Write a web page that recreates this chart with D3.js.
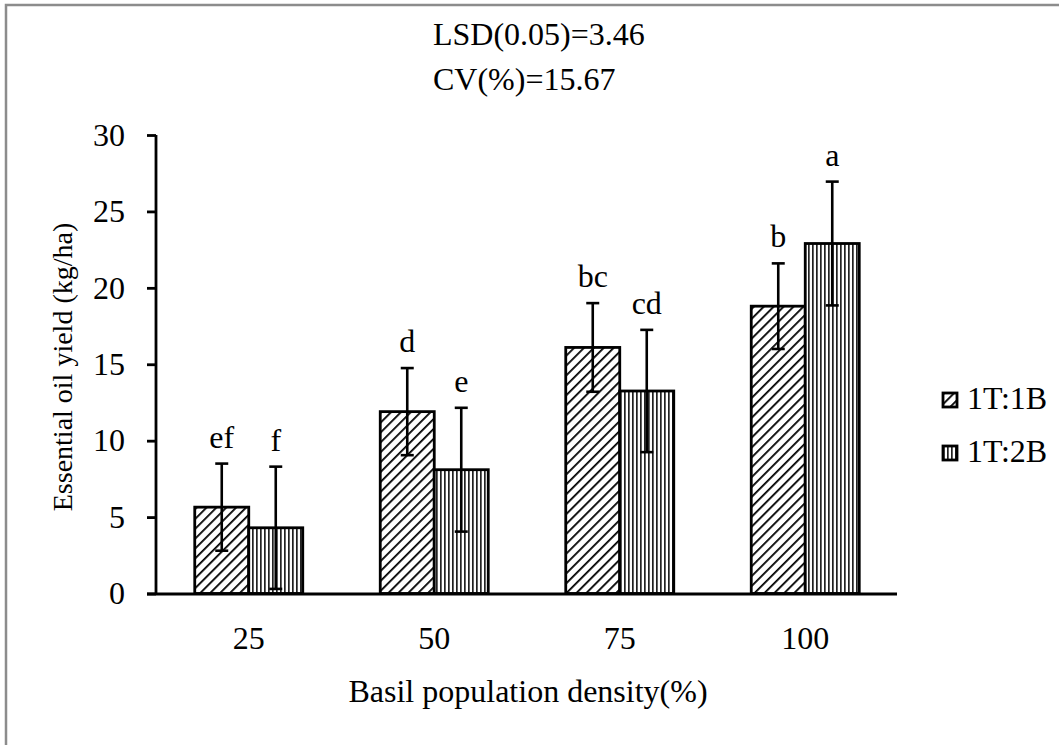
<!DOCTYPE html>
<html>
<head>
<meta charset="utf-8">
<script src="https://d3js.org/d3.v7.min.js"></script>
<style>
  body { margin: 0; background: #fff; }
  svg text { font-family: "Liberation Serif", "Times New Roman", serif !important; fill: #000; }
</style>
</head>
<body>
<div id="chart"></div>
<script>
  // data
  var categories = ["25", "50", "75", "100"];
  var seriesNames = ["1T:1B", "1T:2B"];
  var yield1 = [5.65, 11.9, 16.1, 18.8];
  var yield2 = [4.3, 8.1, 13.25, 22.9];
  var err1 = [2.85, 2.85, 2.9, 2.8];
  var err2 = [4.0, 4.05, 4.0, 4.05];
  var letters1 = ["ef", "d", "bc", "b"];
  var letters2 = ["f", "e", "cd", "a"];
  var yTicks = [0, 5, 10, 15, 20, 25, 30];

  var W = 1059, H = 745;
  var FS = "32px";
  var svg = d3.select("#chart").append("svg")
              .attr("width", W).attr("height", H);

  // outer frame (only top/left visible)
  svg.append("rect")
     .attr("x", 6).attr("y", 5)
     .attr("width", 1070).attr("height", 760)
     .attr("fill", "none").attr("stroke", "#8c8c8c").attr("stroke-width", 2.5);

  var defs = svg.append("defs");
  var diag = defs.append("pattern").attr("id", "diag")
                 .attr("patternUnits", "userSpaceOnUse")
                 .attr("width", 7).attr("height", 7)
                 .attr("patternTransform", "rotate(45)");
  diag.append("rect").attr("width", 7).attr("height", 7).attr("fill", "#fff");
  diag.append("line").attr("x1", 0).attr("y1", 0).attr("x2", 0).attr("y2", 7)
      .attr("stroke", "#000").attr("stroke-width", 3.6);

  var vert = defs.append("pattern").attr("id", "vert")
                 .attr("patternUnits", "userSpaceOnUse")
                 .attr("width", 4).attr("height", 4);
  vert.append("rect").attr("width", 4).attr("height", 4).attr("fill", "#fff");
  vert.append("rect").attr("x", 0).attr("width", 1.7).attr("height", 4).attr("fill", "#222");

  var fills = ["url(#diag)", "url(#vert)"];

  var x = d3.scaleBand().domain(categories).range([156, 898]).paddingInner(0).paddingOuter(0);
  var y = d3.scaleLinear().domain([0, 30]).range([593.5, 135]);
  var barW = 54;

  var groups = categories.map(function(c, i) {
    return [
      {cat: c, s: 0, v: yield1[i], e: err1[i], l: letters1[i]},
      {cat: c, s: 1, v: yield2[i], e: err2[i], l: letters2[i]}
    ];
  });
  var bars = d3.merge(groups);

  function bx(d) { return x(d.cat) + x.bandwidth() / 2 - barW + d.s * barW; }

  svg.selectAll("rect.bar").data(bars).enter().append("rect")
     .attr("class", "bar")
     .attr("x", bx)
     .attr("y", function(d) { return y(d.v); })
     .attr("width", barW)
     .attr("height", function(d) { return y(0) - y(d.v); })
     .attr("fill", function(d) { return fills[d.s]; })
     .attr("stroke", "#000").attr("stroke-width", 2.8);

  // error bars
  var eb = svg.selectAll("g.err").data(bars).enter().append("g").attr("class", "err");
  eb.append("line")
    .attr("x1", function(d) { return bx(d) + barW / 2; })
    .attr("x2", function(d) { return bx(d) + barW / 2; })
    .attr("y1", function(d) { return y(d.v + d.e); })
    .attr("y2", function(d) { return y(Math.max(0, d.v - d.e)); })
    .attr("stroke", "#000").attr("stroke-width", 2.6);
  [1, -1].forEach(function(sg) {
    eb.append("line")
      .attr("x1", function(d) { return bx(d) + barW / 2 - 6.5; })
      .attr("x2", function(d) { return bx(d) + barW / 2 + 6.5; })
      .attr("y1", function(d) { return y(Math.max(0, d.v + sg * d.e)); })
      .attr("y2", function(d) { return y(Math.max(0, d.v + sg * d.e)); })
      .attr("stroke", "#000").attr("stroke-width", 2.6);
  });

  // significance letters
  svg.selectAll("text.let").data(bars).enter().append("text")
     .attr("class", "let")
     .attr("x", function(d) { return bx(d) + barW / 2; })
     .attr("y", function(d) { return y(d.v + d.e) - 16; })
     .attr("text-anchor", "middle")
     .style("font-size", FS)
     .text(function(d) { return d.l; });

  // axes
  var yAxis = d3.axisLeft(y).tickValues(yTicks).tickSize(9).tickPadding(22);
  var gy = svg.append("g").attr("transform", "translate(156,0)").call(yAxis);
  gy.select(".domain").attr("stroke", "#000").attr("stroke-width", 2.8)
    .attr("d", "M0,135V594");
  gy.selectAll(".tick line").attr("stroke", "#000").attr("stroke-width", 2.8);
  gy.selectAll(".tick text").style("font-size", FS);

  var xAxis = d3.axisBottom(x).tickSize(0).tickPadding(32);
  var gx = svg.append("g").attr("transform", "translate(0,594)").call(xAxis);
  gx.select(".domain").attr("stroke", "#000").attr("stroke-width", 3)
    .attr("d", "M147,0H897");
  gx.selectAll(".tick text").style("font-size", FS);

  // titles
  svg.append("text").attr("x", 528).attr("y", 702).attr("text-anchor", "middle")
     .style("font-size", FS).text("Basil population density(%)");
  svg.append("text").attr("transform", "translate(72,367) rotate(-90)")
     .attr("text-anchor", "middle").style("font-size", "28px")
     .text("Essential oil yield (kg/ha)");

  svg.append("text").attr("x", 433).attr("y", 45)
     .style("font-size", FS).text("LSD(0.05)=3.46");
  svg.append("text").attr("x", 433).attr("y", 90)
     .style("font-size", FS).text("CV(%)=15.67");

  // legend
  var lg = svg.selectAll("g.leg").data(seriesNames).enter().append("g")
              .attr("class", "leg")
              .attr("transform", function(d, i) { return "translate(943," + (393 + i * 53) + ")"; });
  lg.append("rect").attr("width", 14).attr("height", 14)
    .attr("fill", function(d, i) { return fills[i]; })
    .attr("stroke", "#000").attr("stroke-width", 2.8);
  lg.append("text").attr("x", 24).attr("y", 16).style("font-size", FS)
    .text(function(d) { return d; });
</script>
</body>
</html>
